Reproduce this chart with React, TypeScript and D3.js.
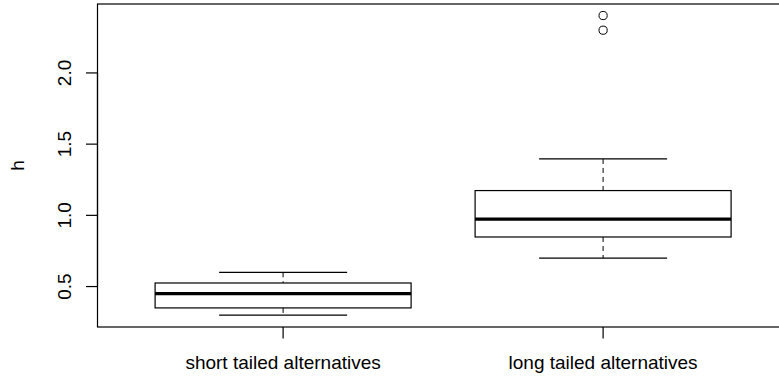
import React from 'react'
import * as d3 from 'd3'

// box statistics
const categories = ['short tailed alternatives', 'long tailed alternatives']
const lowerWhisker = [0.3, 0.7]
const q1 = [0.35, 0.848]
const median = [0.451, 0.973]
const q3 = [0.525, 1.174]
const upperWhisker = [0.6, 1.396]
const outliers = [[], [2.3, 2.403]]
const yTicks = [0.5, 1.0, 1.5, 2.0]
const yLabel = 'h'

const W = 779
const H = 376
const plot = { left: 97.5, top: 4, bottom: 327 }
const font = 'Liberation Sans, Arial, Helvetica, sans-serif'
const fs = 19

const App = () => {
  // R boxplot: xlim = c(0.5, n + 0.5) extended by 4%
  var x = d3.scaleLinear().domain([0.42, 2.58]).range([plot.left, plot.left + 2.16 * 320])
  var y = d3.scaleLinear().domain([0.216, 2.484]).range([plot.bottom, plot.top])
  var boxHalf = (x(1.4) - x(1)) // boxwex 0.8
  var capHalf = boxHalf / 2

  return (
    <svg width={W} height={H} style={{ position: 'absolute', left: 0, top: 0, background: '#fff' }}>
      {/* plot frame, runs past the right edge */}
      <rect x={x(0.42)} y={plot.top} width={x(2.58) - x(0.42)} height={plot.bottom - plot.top}
        fill="none" stroke="#000" strokeWidth={1.2} />

      {categories.map((c, i) => {
        var cx = x(i + 1)
        return (
          <g key={c}>
            <line x1={cx} x2={cx} y1={y(upperWhisker[i])} y2={y(q3[i])} stroke="#000" strokeDasharray="5,4" />
            <line x1={cx} x2={cx} y1={y(q1[i])} y2={y(lowerWhisker[i])} stroke="#000" strokeDasharray="5,4" />
            <line x1={cx - capHalf} x2={cx + capHalf} y1={y(upperWhisker[i])} y2={y(upperWhisker[i])} stroke="#000" strokeWidth={1.2} />
            <line x1={cx - capHalf} x2={cx + capHalf} y1={y(lowerWhisker[i])} y2={y(lowerWhisker[i])} stroke="#000" strokeWidth={1.2} />
            <rect x={cx - boxHalf} y={y(q3[i])} width={boxHalf * 2} height={y(q1[i]) - y(q3[i])}
              fill="none" stroke="#000" strokeWidth={1.2} />
            <line x1={cx - boxHalf} x2={cx + boxHalf} y1={y(median[i])} y2={y(median[i])} stroke="#000" strokeWidth={3.2} />
            {outliers[i].map((v, j) => (
              <circle key={j} cx={cx} cy={y(v)} r={4.1} fill="none" stroke="#000" strokeWidth={1} />
            ))}
            {/* x tick + label */}
            <line x1={cx} x2={cx} y1={plot.bottom} y2={plot.bottom + 11.5} stroke="#000" strokeWidth={1.2} />
            <text x={cx} y={369} textAnchor="middle" fontFamily={font} fontSize={fs}>{c}</text>
          </g>
        )
      })}

      {/* y axis */}
      <line x1={plot.left} x2={plot.left} y1={y(yTicks[0])} y2={y(yTicks[yTicks.length - 1])} stroke="#000" strokeWidth={1.2} />
      {yTicks.map(t => (
        <g key={t} transform={'translate(' + plot.left + ',' + y(t) + ')'}>
          <line x1={-11.5} x2={0} stroke="#000" strokeWidth={1.2} />
          <text transform="translate(-27,0) rotate(-90)" textAnchor="middle" fontFamily={font} fontSize={fs}>
            {t.toFixed(1)}
          </text>
        </g>
      ))}
      <text transform={'translate(24,' + (plot.top + plot.bottom) / 2 + ') rotate(-90)'} textAnchor="middle"
        fontFamily={font} fontSize={fs}>{yLabel}</text>
    </svg>
  )
}

export default App
